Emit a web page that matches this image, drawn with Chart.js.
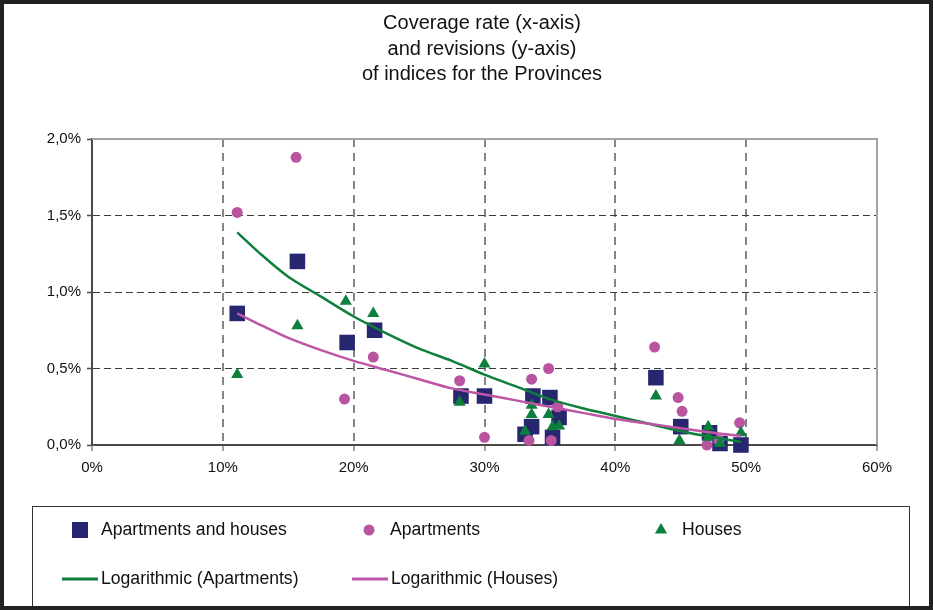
<!DOCTYPE html>
<html>
<head>
<meta charset="utf-8">
<script src="https://cdn.jsdelivr.net/npm/chart.js@4.4.1/dist/chart.umd.min.js"></script>
<style>
  html, body { margin: 0; padding: 0; background: #fff; }
  #wrap { position: relative; width: 933px; height: 610px; }
</style>
</head>
<body>
<div id="wrap"><canvas id="chart_coverageRevisions"></canvas></div>
<script>
// values (x = coverage rate %, y = revision %)
var coverageBoth = [11.1, 15.7, 19.5, 21.6, 28.2, 30.0, 33.1, 33.6, 33.7, 35.0, 35.2, 35.7, 43.1, 45.0, 47.2, 48.0, 49.6];
var revisionBoth = [0.86, 1.20, 0.67, 0.75, 0.32, 0.32, 0.07, 0.12, 0.32, 0.31, 0.05, 0.18, 0.44, 0.12, 0.08, 0.01, 0.00];

var coverageApartments = [11.1, 15.6, 19.3, 21.5, 28.1, 30.0, 33.4, 33.6, 34.9, 35.1, 35.6, 43.0, 44.8, 45.1, 47.0, 47.9, 49.5];
var revisionApartments = [1.52, 1.88, 0.30, 0.575, 0.42, 0.05, 0.03, 0.43, 0.50, 0.03, 0.25, 0.64, 0.31, 0.22, 0.00, 0.03, 0.145];

var coverageHouses = [11.1, 15.7, 19.4, 21.5, 28.1, 30.0, 33.1, 33.6, 33.6, 34.9, 35.2, 35.7, 43.1, 44.9, 47.1, 47.1, 48.0, 49.6];
var revisionHouses = [0.46, 0.78, 0.94, 0.86, 0.28, 0.53, 0.09, 0.20, 0.26, 0.20, 0.12, 0.125, 0.32, 0.03, 0.05, 0.12, 0.01, 0.08];

// trend curves
var trendCoverage = [11.1, 13, 15, 17.5, 20, 22.5, 25, 27.5, 30, 32.5, 35, 37.5, 40, 42.5, 45, 47.5, 49.6];
var trendApartments = [1.39, 1.24, 1.10, 0.97, 0.84, 0.73, 0.63, 0.55, 0.46, 0.38, 0.30, 0.24, 0.19, 0.14, 0.09, 0.05, 0.02];
var trendHouses = [0.86, 0.78, 0.70, 0.62, 0.55, 0.49, 0.43, 0.37, 0.33, 0.29, 0.25, 0.21, 0.17, 0.14, 0.11, 0.08, 0.06];

var xTicks = [0, 10, 20, 30, 40, 50, 60];
var xTickLabels = ['0%', '10%', '20%', '30%', '40%', '50%', '60%'];
var yTicks = [0, 0.5, 1.0, 1.5, 2.0];
var yTickLabels = ['0,0%', '0,5%', '1,0%', '1,5%', '2,0%'];

var titleLines = ['Coverage rate (x-axis)', 'and revisions (y-axis)', 'of indices for the Provinces'];

function toPoints(xs, ys) {
    return xs.map(function (x, i) { return { x: x, y: ys[i] }; });
}

var FONT = '"Liberation Sans", Arial, sans-serif';

var chart_coverageRevisions = new Chart(document.getElementById('chart_coverageRevisions'), {
    type: 'scatter',
    data: {
        datasets: [
            {
                label: 'Apartments and houses',
                data: toPoints(coverageBoth, revisionBoth),
                pointStyle: 'rect',
                pointRadius: 11,
                borderWidth: 0,
                backgroundColor: '#26276f',
                borderColor: '#26276f',
                clip: false,
                order: 4
            },
            {
                label: 'Apartments',
                data: toPoints(coverageApartments, revisionApartments),
                pointStyle: 'circle',
                pointRadius: 5.5,
                borderWidth: 0,
                backgroundColor: '#b954a0',
                borderColor: '#b954a0',
                clip: false,
                order: 3
            },
            {
                label: 'Houses',
                data: toPoints(coverageHouses, revisionHouses),
                pointStyle: 'triangle',
                pointRadius: 7,
                borderWidth: 0,
                backgroundColor: '#0b7f3b',
                borderColor: '#0b7f3b',
                clip: false,
                order: 2
            },
            {
                label: 'Logarithmic (Apartments)',
                data: toPoints(trendCoverage, trendApartments),
                showLine: true,
                pointRadius: 0,
                borderWidth: 2.5,
                borderColor: '#0f7f3c',
                backgroundColor: '#0f7f3c',
                tension: 0.3,
                clip: false,
                order: 1
            },
            {
                label: 'Logarithmic (Houses)',
                data: toPoints(trendCoverage, trendHouses),
                showLine: true,
                pointRadius: 0,
                borderWidth: 2.5,
                borderColor: '#be55a5',
                backgroundColor: '#be55a5',
                tension: 0.3,
                clip: false,
                order: 0
            }
        ]
    },
    options: {
        animation: false,
        responsive: true,
        maintainAspectRatio: false,
        layout: {
            // title box spans 31..933 so it is centred at x=482 like the original
            padding: { left: 31, right: 0, top: 0, bottom: 125 }
        },
        plugins: {
            legend: { display: false },
            tooltip: { enabled: false },
            title: {
                display: true,
                text: titleLines,
                color: '#111',
                font: { family: FONT, size: 20, weight: 'normal', lineHeight: 1.275 },
                padding: { top: 11, bottom: 51.5 }
            }
        },
        scales: {
            x: {
                type: 'linear',
                min: 0,
                max: 60,
                afterBuildTicks: function (axis) { axis.ticks = xTicks.map(function (v) { return { value: v }; }); },
                afterFit: function (axis) { axis.height = 40; },
                ticks: {
                    color: '#111',
                    font: { family: FONT, size: 15 },
                    padding: 8,
                    maxRotation: 0,
                    callback: function (v, i) { return xTickLabels[i]; }
                },
                grid: {
                    color: function (c) { return (c.tick && (c.tick.value === 0 || c.tick.value === 60)) ? 'rgba(0,0,0,0)' : '#858585'; },
                    lineWidth: 2,
                    tickColor: '#858585',
                    tickLength: 6,
                    tickWidth: 1.5
                },
                border: { display: true, color: '#4a4a4a', width: 2, dash: [8, 6] }
            },
            y: {
                type: 'linear',
                min: 0,
                max: 2,
                afterBuildTicks: function (axis) { axis.ticks = yTicks.map(function (v) { return { value: v }; }); },
                afterFit: function (axis) { axis.width = 61; },
                ticks: {
                    color: '#111',
                    font: { family: FONT, size: 15 },
                    padding: 6,
                    callback: function (v, i) { return yTickLabels[i]; }
                },
                grid: {
                    color: function (c) { return (c.tick && (c.tick.value === 0 || c.tick.value === 2)) ? 'rgba(0,0,0,0)' : '#3c3c3c'; },
                    lineWidth: 1,
                    tickColor: '#4a4a4a',
                    tickLength: 5,
                    tickWidth: 1.5
                },
                border: { display: true, color: '#4a4a4a', width: 2, dash: [7, 4] }
            },
            // empty spacer on the right, keeps the plot edge at x=877
            spacer: {
                type: 'linear',
                position: 'right',
                afterFit: function (axis) { axis.width = 56; },
                ticks: { display: false },
                grid: { display: false },
                border: { display: false }
            }
        }
    },
    plugins: [{
        id: 'whiteBackground',
        beforeDraw: function (chart) {
            var ctx = chart.ctx;
            ctx.save();
            ctx.fillStyle = 'white';
            ctx.fillRect(0, 0, chart.width, chart.height);
            ctx.restore();
        }
    }, {
        id: 'plotFrame',
        beforeDatasetsDraw: function (chart) {
            var a = chart.chartArea;
            var ctx = chart.ctx;
            ctx.save();
            ctx.strokeStyle = '#a3a3a3';
            ctx.lineWidth = 2;
            ctx.beginPath();
            ctx.moveTo(a.left, a.top);
            ctx.lineTo(a.right, a.top);
            ctx.lineTo(a.right, a.bottom);
            ctx.stroke();
            ctx.restore();
        }
    }, {
        id: 'boxLegend',
        afterDraw: function (chart) {
            var ctx = chart.ctx;
            var slots = [[80, 530], [369, 530], [661, 530], [62, 579], [352, 579]];
            ctx.save();
            ctx.strokeStyle = '#333';
            ctx.lineWidth = 1;
            ctx.strokeRect(32.5, 506.5, 877, 120);
            chart.data.datasets.forEach(function (ds, i) {
                var x = slots[i][0], y = slots[i][1];
                ctx.fillStyle = ds.backgroundColor;
                ctx.strokeStyle = ds.borderColor;
                if (ds.showLine) {
                    ctx.lineWidth = 3;
                    ctx.beginPath();
                    ctx.moveTo(x, y);
                    ctx.lineTo(x + 36, y);
                    ctx.stroke();
                } else if (ds.pointStyle === 'rect') {
                    ctx.fillRect(x - 8, y - 8, 16, 16);
                } else if (ds.pointStyle === 'circle') {
                    ctx.beginPath();
                    ctx.arc(x, y, 5.5, 0, Math.PI * 2);
                    ctx.fill();
                } else {
                    ctx.beginPath();
                    ctx.moveTo(x, y - 7);
                    ctx.lineTo(x + 6.1, y + 3.5);
                    ctx.lineTo(x - 6.1, y + 3.5);
                    ctx.closePath();
                    ctx.fill();
                }
                ctx.fillStyle = '#111';
                ctx.font = '17.6px ' + FONT;
                ctx.textBaseline = 'middle';
                ctx.textAlign = 'left';
                var tx = ds.showLine ? x + 39 : x + 21;
                ctx.fillText(ds.label, tx, y);
            });
            // outer frame
            ctx.strokeStyle = '#222';
            ctx.lineWidth = 4;
            ctx.strokeRect(2, 2, chart.width - 4, chart.height - 4);
            ctx.restore();
        }
    }]
});
</script>
</body>
</html>
